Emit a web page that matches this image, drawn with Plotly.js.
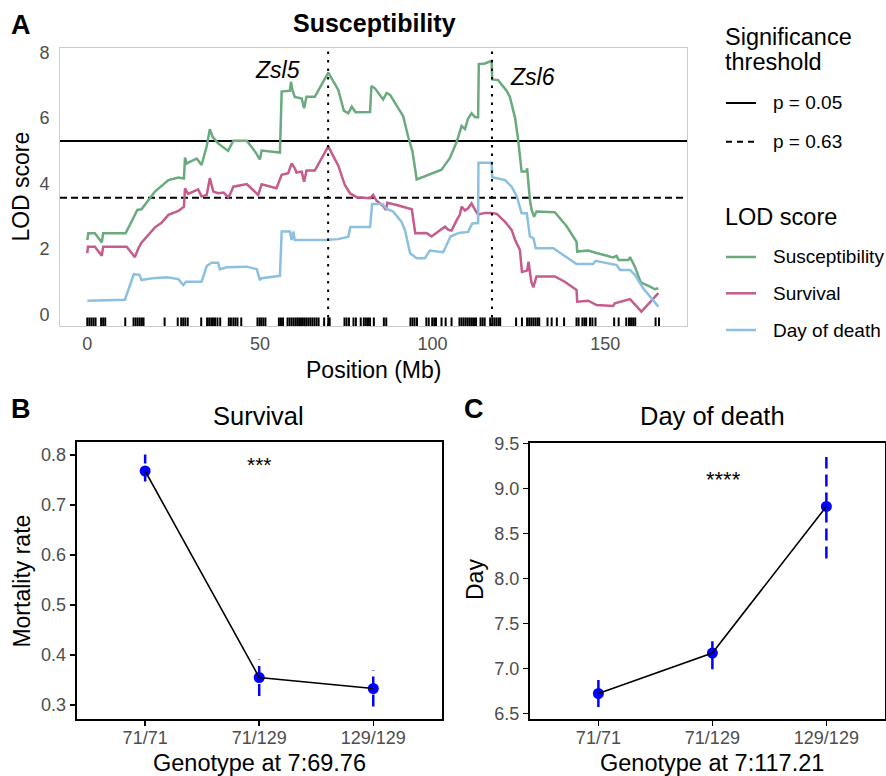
<!DOCTYPE html>
<html>
<head>
<meta charset="utf-8">
<script src="https://cdn.plot.ly/plotly-3.0.1.min.js"></script>
<style>html,body{margin:0;padding:0;background:#fff;}#chart{width:886px;height:776px;}</style>
</head>
<body>
<div id="chart"></div>
<script>
// ---------------- DATA ----------------
const seriesNames = ['Susceptibility', 'Survival', 'Day of death'];

const suscPos = [0, 0.3, 2.2, 4.2, 4.6, 11.1, 12.8, 14.5, 15.7, 17.7,
  19.6, 23.5, 26.4, 28.0, 28.3, 28.8, 31.7, 33.1, 33.8, 34.6,
  35.5, 36.3, 37.9, 40.8, 42.3, 46.2, 48.6, 50.0, 50.5, 55.8,
  56.3, 58.7, 59.0, 59.4, 60.1, 62.1, 62.8, 63.5, 65.9, 69.8,
  72.7, 74.3, 75.6, 76.6, 77.7, 81.9, 82.3, 83.3, 85.7, 86.7,
  87.7, 91.5, 93.0, 94.2, 95.4, 96.8, 99.2, 100.2, 102.6, 103.5,
  105.0, 107.0, 107.9, 108.4, 109.4, 110.3, 111.3, 112.3, 113.2, 113.4,
  115.2, 117.1, 117.3, 119.0, 121.5, 122.4, 123.9, 124.8, 125.8, 127.2,
  127.4, 128.2, 128.7, 129.4, 130.1, 135.4, 138.8, 141.7, 141.9, 145.1,
  147.0, 152.3, 153.3, 153.9, 156.7, 157.2, 158.6, 160.3, 163.0, 164.4,
  165.4];
const suscLod = [2.27, 2.48, 2.48, 2.20, 2.48, 2.48, 2.83, 3.19, 3.21, 3.49,
  3.75, 4.10, 4.18, 4.15, 4.79, 4.61, 4.76, 4.56, 4.81, 5.14,
  5.65, 5.42, 5.22, 4.99, 5.30, 5.30, 4.97, 4.73, 5.00, 4.94,
  6.80, 6.83, 7.10, 6.85, 6.64, 6.59, 6.29, 6.64, 6.64, 7.38,
  6.85, 6.22, 6.14, 6.34, 6.17, 6.18, 6.97, 6.90, 6.56, 6.76,
  6.70, 6.05, 5.40, 4.97, 4.12, 4.18, 4.28, 4.33, 4.42, 4.55,
  4.77, 5.27, 5.63, 5.75, 5.66, 5.98, 6.14, 6.02, 6.02, 7.64,
  7.66, 7.74, 7.17, 7.15, 6.82, 6.64, 6.00, 5.32, 4.36, 4.36,
  4.46, 3.50, 3.19, 2.98, 3.14, 3.12, 2.70, 2.22, 1.92, 1.95,
  1.89, 1.74, 1.79, 1.66, 1.66, 1.75, 1.46, 0.98, 0.85, 0.77,
  0.80];

const survPos = [0, 0.2, 2.2, 4.2, 4.6, 11.4, 13.8, 14.8, 15.7, 19.6,
  21.5, 23.5, 26.4, 28.0, 28.3, 29.2, 32.1, 33.1, 34.6, 35.5,
  36.5, 37.9, 39.5, 40.8, 41.3, 42.3, 46.2, 49.5, 50.5, 54.8,
  56.3, 58.2, 59.2, 60.1, 60.6, 62.1, 62.8, 63.5, 65.9, 69.8,
  72.7, 74.6, 76.1, 78.0, 81.9, 82.8, 83.8, 85.7, 86.5, 86.9,
  89.6, 94.0, 95.0, 98.3, 99.7, 102.1, 103.6, 104.6, 105.5, 107.0,
  107.9, 108.4, 109.4, 110.3, 111.3, 112.3, 113.2, 115.2, 117.1, 118.6,
  121.0, 122.9, 123.9, 125.3, 125.9, 127.4, 127.8, 128.6, 129.2, 130.1,
  135.4, 138.3, 141.7, 141.9, 145.1, 147.5, 152.3, 152.8, 157.2, 160.5,
  165.4];
const survLod = [1.87, 2.07, 2.07, 1.79, 2.07, 2.07, 1.75, 2.02, 2.19, 2.66,
  2.80, 3.04, 3.16, 3.29, 3.85, 3.68, 3.82, 3.60, 3.65, 4.16,
  3.75, 3.70, 3.72, 3.58, 3.65, 3.90, 3.98, 3.65, 3.97, 3.85,
  4.26, 4.31, 4.61, 4.46, 4.33, 4.36, 4.05, 4.39, 4.39, 5.13,
  4.54, 3.95, 3.70, 3.58, 3.55, 3.65, 3.47, 3.31, 3.19, 3.41,
  3.34, 3.21, 2.48, 2.49, 2.38, 2.58, 2.68, 2.58, 2.56, 2.88,
  3.04, 3.29, 3.17, 3.24, 3.39, 3.19, 3.05, 3.10, 3.10, 3.07,
  2.83, 2.58, 2.28, 1.97, 1.30, 1.34, 1.61, 1.00, 0.83, 1.16,
  1.16, 1.00, 0.75, 0.39, 0.42, 0.29, 0.26, 0.34, 0.47, 0.09,
  0.65];

const deathPos = [0, 10.9, 13.5, 15.1, 15.7, 19.1, 23.0, 26.4, 27.8, 28.6,
  33.1, 34.6, 36.0, 37.9, 38.4, 40.4, 46.2, 49.1, 50.0, 50.5,
  55.8, 56.3, 58.7, 59.2, 59.7, 60.1, 68.8, 72.7, 75.6, 76.2,
  81.9, 82.5, 85.5, 86.7, 88.6, 91.0, 92.0, 93.5, 95.4, 97.8,
  99.2, 103.1, 105.2, 107.6, 110.3, 111.5, 113.2, 113.3, 117.1, 117.3,
  121.0, 122.9, 124.4, 125.8, 127.3, 128.2, 129.2, 129.9, 135.0, 141.7,
  146.5, 147.2, 153.3, 154.3, 157.2, 158.6, 161.0, 163.0, 165.4];
const deathLod = [0.42, 0.45, 1.23, 1.21, 1.05, 1.11, 1.14, 1.08, 0.90, 1.00,
  1.00, 1.48, 1.58, 1.58, 1.38, 1.44, 1.46, 1.38, 1.05, 1.11,
  1.18, 2.53, 2.53, 2.27, 2.53, 2.27, 2.27, 2.30, 2.37, 2.67,
  2.67, 3.37, 3.37, 3.22, 3.14, 2.83, 2.58, 1.87, 1.72, 1.72,
  1.95, 1.90, 2.38, 2.49, 2.52, 2.78, 2.79, 4.63, 4.63, 4.19,
  4.10, 3.90, 3.60, 3.09, 3.09, 2.38, 2.33, 2.02, 2.02, 1.54,
  1.54, 1.64, 1.51, 1.36, 1.36, 1.21, 0.80, 0.55, 0.24];

// genetic marker positions (Mb) shown as rug
const markerPos = [0, 0.6, 1.2, 1.8, 2.4, 4.0, 4.6, 5.2, 11.0, 13.4, 14.0, 14.6, 15.2, 15.8, 16.3,
  22.4, 26.2, 27.2, 27.8, 28.4, 29.1, 33.0, 34.7, 35.3, 35.9, 36.4, 37.0, 37.7, 38.5,
  41.0, 41.6, 42.3, 42.9, 43.5, 44.6, 49.3, 49.9, 50.4, 51.0, 51.6, 55.5, 56.1, 56.7,
  58.0, 58.6, 59.2, 59.8, 60.4, 61.0, 61.6, 62.2, 62.8, 63.4, 64.0, 64.6, 65.2, 65.8, 66.4, 67.0,
  68.6, 69.8, 70.2, 74.5, 75.1, 75.8, 77.1, 77.8, 79.2, 80.1, 80.7, 81.3, 81.9, 83.0, 85.9, 86.6,
  93.6, 94.2, 94.8, 95.5, 98.2, 98.9, 99.9, 100.5, 101.0, 102.6, 103.8, 105.5,
  107.8, 108.4, 109.0, 109.6, 110.2, 110.8, 111.4, 112.0, 112.6, 113.9, 114.5, 115.1,
  116.7, 117.3, 117.9, 118.5, 119.1, 119.6, 124.2, 125.9,
  127.4, 128.0, 128.6, 129.2, 129.8, 130.4, 130.9, 133.3, 134.5, 136.0, 138.1,
  141.7, 142.3, 143.4, 144.0, 144.5, 145.6, 146.3, 147.2, 152.6, 153.9,
  156.1, 156.9, 157.5, 158.1, 158.7, 164.6, 165.6];

const thresholdLabels = ['p = 0.05', 'p = 0.63'];
const thresholdLod = [5.29, 3.56];
const qtlNames = ['Zsl5', 'Zsl6'];
const qtlPos = [69.76, 117.21];

const genotypes = ['71/71', '71/129', '129/129'];
const mortalityMean = [0.768, 0.355, 0.333];
const mortalityLow  = [0.747, 0.318, 0.297];
const mortalityHigh = [0.801, 0.391, 0.370];
const dayMean = [6.72, 7.17, 8.80];
const dayLow  = [6.57, 6.99, 8.22];
const dayHigh = [6.87, 7.30, 9.35];
const survivalMarker = '7:69.76';
const deathMarker = '7:117.21';
const survivalSig = '***';
const deathSig = '****';

// ---------------- STYLE ----------------
const W = 886, H = 776;
const FONT = 'Liberation Sans, Arial, Helvetica, sans-serif';
const colors = ['#6aaa7e', '#c45c8c', '#8cc0e0'];
const px = x => x / W;
const py = y => 1 - y / H;

const traces = [];
const lodPos = [suscPos, survPos, deathPos];
const lodVal = [suscLod, survLod, deathLod];
seriesNames.forEach((n, i) => {
  traces.push({x: lodPos[i], y: lodVal[i], type: 'scatter', mode: 'lines', name: n,
    line: {color: colors[i], width: 2.5}, xaxis: 'x', yaxis: 'y', hoverinfo: 'skip'});
});
traces.push({x: markerPos, y: markerPos.map(() => -0.24), type: 'scatter', mode: 'markers',
  marker: {symbol: 'line-ns', size: 7, color: '#000', line: {color: '#000', width: 2}},
  xaxis: 'x', yaxis: 'y', hoverinfo: 'skip'});

const gIdx = genotypes.map((g, i) => i);
function effectPanel(xa, ya, mean, lo, hi) {
  gIdx.forEach(i => {
    traces.push({x: [i, i], y: [lo[i], hi[i]], type: 'scatter', mode: 'lines',
      line: {color: '#0000ff', width: 2.5, dash: '12px,6px'}, xaxis: xa, yaxis: ya, hoverinfo: 'skip'});
  });
  traces.push({x: gIdx, y: mean, type: 'scatter', mode: 'markers',
    marker: {color: '#0000ff', size: 11}, xaxis: xa, yaxis: ya});
  traces.push({x: gIdx, y: mean, type: 'scatter', mode: 'lines',
    line: {color: '#000', width: 1.6}, xaxis: xa, yaxis: ya});
}
effectPanel('x2', 'y2', mortalityMean, mortalityLow, mortalityHigh);
effectPanel('x3', 'y3', dayMean, dayLow, dayHigh);

const tickFont = {family: FONT, size: 18, color: '#4d4d4d'};
const axA = {showgrid: false, zeroline: false, showline: true, mirror: true, linecolor: '#cccccc',
  linewidth: 1, ticks: '', tickfont: tickFont};
const axBC = {showgrid: false, zeroline: false, showline: true, mirror: true, linecolor: '#000',
  linewidth: 2, ticks: 'outside', ticklen: 5, tickwidth: 1.5, tickcolor: '#000', tickfont: tickFont};

const shapes = [];
thresholdLod.forEach((t, i) => {
  shapes.push({type: 'line', xref: 'x domain', yref: 'y', x0: 0, x1: 1, y0: t, y1: t, layer: 'below',
    line: {color: '#000', width: 2, dash: i === 0 ? 'solid' : '7px,4px'}});
});
qtlPos.forEach(q => {
  shapes.push({type: 'line', xref: 'x', yref: 'y domain', x0: q, x1: q, y0: 0, y1: 1,
    line: {color: '#000', width: 2, dash: '2.5px,6px'}});
});
// legend keys
const keyX0 = 726, keyX1 = 756, textX = 771.7;
const thrKeyY = [103, 141.7];
const lodKeyY = [257, 293.3, 330];
thresholdLabels.forEach((l, i) => {
  shapes.push({type: 'line', xref: 'paper', yref: 'paper', x0: px(keyX0), x1: px(keyX1),
    y0: py(thrKeyY[i]), y1: py(thrKeyY[i]), line: {color: '#000', width: 2, dash: i === 0 ? 'solid' : '6px,5px'}});
});
seriesNames.forEach((n, i) => {
  shapes.push({type: 'line', xref: 'paper', yref: 'paper', x0: px(keyX0), x1: px(keyX1),
    y0: py(lodKeyY[i]), y1: py(lodKeyY[i]), line: {color: colors[i], width: 2.5}});
});

function txt(text, x, y, size, extra) {
  return Object.assign({text: text, x: px(x), y: py(y), xref: 'paper', yref: 'paper', showarrow: false,
    xanchor: 'center', yanchor: 'middle', font: {family: FONT, size: size, color: '#000'}}, extra || {});
}
const ann = [
  txt('<b>A</b>', 21, 25.5, 27),
  txt('<b>Susceptibility</b>', 374, 23, 25),
  txt('Position (Mb)', 373.5, 369.5, 23),
  txt('LOD score', 20.6, 187, 23, {textangle: -90}),
  txt('Significance', 722.5, 37.3, 23.5, {xanchor: 'left'}),
  txt('threshold', 722.5, 62.3, 23.5, {xanchor: 'left'}),
  txt('LOD score', 722.5, 217.3, 23.5, {xanchor: 'left'}),
  txt('<b>B</b>', 21, 409.3, 27),
  txt('Survival', 258.5, 416, 25.5),
  txt('Genotype at ' + survivalMarker, 259, 763, 23.5),
  txt('Mortality rate', 21.6, 581, 23, {textangle: -90}),
  txt('<b>C</b>', 474, 409.3, 27),
  txt('Day of death', 712.5, 416, 25.5),
  txt('Genotype at ' + deathMarker, 711.7, 763, 23.5),
  txt('Day', 475, 580, 23, {textangle: -90}),
];
thresholdLabels.forEach((l, i) => ann.push(txt(l, textX - 1, thrKeyY[i], 19, {xanchor: 'left'})));
seriesNames.forEach((n, i) => ann.push(txt(n, textX - 1, lodKeyY[i], 19, {xanchor: 'left'})));
ann.push({text: '<i>' + qtlNames[0] + '</i>', x: qtlPos[0] - 7.5, y: 7.45, xref: 'x', yref: 'y',
  showarrow: false, xanchor: 'right', yanchor: 'middle', font: {family: FONT, size: 23, color: '#000'}});
ann.push({text: '<i>' + qtlNames[1] + '</i>', x: qtlPos[1] + 4.5, y: 7.24, xref: 'x', yref: 'y',
  showarrow: false, xanchor: 'left', yanchor: 'middle', font: {family: FONT, size: 23, color: '#000'}});
ann.push({text: survivalSig, x: 1, y: 0.781, xref: 'x2', yref: 'y2', showarrow: false,
  xanchor: 'center', yanchor: 'middle', font: {family: FONT, size: 21, color: '#000'}});
ann.push({text: deathSig, x: 1.1, y: 9.1, xref: 'x3', yref: 'y3', showarrow: false,
  xanchor: 'center', yanchor: 'middle', font: {family: FONT, size: 22, color: '#000'}});

const layout = {
  width: W, height: H, margin: {l: 0, r: 0, t: 0, b: 0}, showlegend: false,
  paper_bgcolor: '#fff', plot_bgcolor: '#fff', font: {family: FONT},
  xaxis: Object.assign({}, axA, {domain: [px(60), px(687)], range: [-7.9, 173.7], tickvals: [0, 50, 100, 150], anchor: 'y', ticklabelstandoff: 1}),
  yaxis: Object.assign({}, axA, {domain: [py(326), py(48)], range: [-0.35, 8.13], tickvals: [0, 2, 4, 6, 8], anchor: 'x', ticklabelstandoff: 6}),
  xaxis2: Object.assign({}, axBC, {domain: [px(76.7), px(441.7)], range: [-0.6, 2.6], tickvals: gIdx, ticktext: genotypes, anchor: 'y2', ticklabelstandoff: -4}),
  yaxis2: Object.assign({}, axBC, {domain: [py(719.3), py(441.7)], range: [0.2714, 0.8266], tickvals: [0.3, 0.4, 0.5, 0.6, 0.7, 0.8], tickformat: '.1f', anchor: 'x2'}),
  xaxis3: Object.assign({}, axBC, {domain: [px(530), px(884.5)], range: [-0.6, 2.51], tickvals: gIdx, ticktext: genotypes, anchor: 'y3', ticklabelstandoff: -4}),
  yaxis3: Object.assign({}, axBC, {domain: [py(719.3), py(442.5)], range: [6.433, 9.511], tickvals: [6.5, 7, 7.5, 8, 8.5, 9, 9.5], tickformat: '.1f', anchor: 'x3'}),
  shapes: shapes, annotations: ann
};
Plotly.newPlot('chart', traces, layout, {staticPlot: true, displayModeBar: false});
</script>
</body>
</html>
